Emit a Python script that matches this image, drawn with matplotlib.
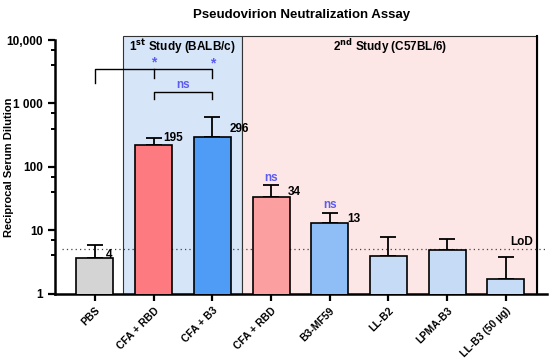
import numpy as np
import matplotlib.pyplot as plt
from matplotlib.patches import Rectangle
from matplotlib.ticker import FixedLocator, FixedFormatter

plt.rcParams['font.family'] = ['Liberation Sans', 'DejaVu Sans']
plt.rcParams['font.weight'] = 'bold'

# data
groups = ["PBS", "CFA + RBD", "CFA + B3", "CFA + RBD", "B3-MF59",
          "LL-B2", "LPMA-B3", "LL-B3 (50 \u00b5g)"]
means = [3.7, 219, 294, 33, 13.1, 3.9, 4.8, 1.7]
err_top = [5.85, 286, 614, 51.5, 18.5, 7.9, 7.2, 3.75]
labels = ["4", "195", "296", "34", "13", None, None, None]
colors = ["#d4d4d4", "#fd7b80", "#4f9cf7", "#fc9fa0", "#8fbdf6",
          "#c6dcf6", "#c6dcf6", "#c6dcf6"]
lod = 5

fig = plt.figure(figsize=(5.5, 3.58), dpi=100)
ax = fig.add_axes([0.1, 0.18, 0.8945, 0.708])

x = np.arange(len(groups))
ax.set_yscale("log")
ax.set_ylim(1, 10000)
ax.set_xlim(-0.68, 7.7)

# study backgrounds
ax.add_patch(Rectangle((0.48, 1), 2.025, 11800, facecolor="#d6e5f8",
                       edgecolor="#333333", lw=0.8, zorder=0, clip_on=False))
ax.add_patch(Rectangle((2.505, 1), 5.025, 11800, facecolor="#fde6e6",
                       edgecolor="#333333", lw=0.8, zorder=0, clip_on=False))
ax.plot([7.53, 7.53], [1, 11800], color="black", lw=1.5, zorder=1, clip_on=False)
ax.text(1.49, 8000, r"1$^{\mathbf{st}}$ Study (BALB/c)", ha="center", va="center", fontsize=8.5)
ax.text(5.02, 8000, r"2$^{\mathbf{nd}}$ Study (C57BL/6)", ha="center", va="center", fontsize=8.5)

# LoD line
ax.axhline(lod, xmin=0.015, color="#444444", ls=(0, (1, 2.5)), lw=0.9, zorder=1)
ax.text(7.27, 6.4, "LoD", ha="center", va="center", fontsize=8.5)

# bars and error bars
ax.bar(x, means, width=0.63, color=colors, edgecolor="black", lw=1.2,
       bottom=0, zorder=3)
ax.errorbar(x, means, yerr=[np.zeros(len(means)), np.array(err_top) - np.array(means)],
            fmt="none", ecolor="black", elinewidth=1.3, capsize=5.5, capthick=1.3, zorder=2)

# value labels
lab_y = [4.1, 286, 400, 40, 15]
lab_dx = [0.2, 0.18, 0.32, 0.31, 0.31]
for i, lab in enumerate(labels):
    if lab is None:
        continue
    ax.text(x[i] + lab_dx[i] - 0.02, lab_y[i], lab, ha="left", va="center", fontsize=8.5)

# significance brackets
sig = "#5c5cf0"
ax.plot([0, 0, 2, 2], [2080, 3460, 3460, 2500], color="black", lw=1, clip_on=False, zorder=4)
ax.plot([1, 1], [3460, 2500], color="black", lw=1, zorder=4)
ax.text(1, 4500, "*", color=sig, ha="center", va="center", fontsize=10)
ax.text(2, 4300, "*", color=sig, ha="center", va="center", fontsize=10)
ax.plot([1, 1, 2, 2], [1170, 1520, 1520, 1170], color="black", lw=1, zorder=4)
ax.text(1.5, 1950, "ns", color=sig, ha="center", va="center", fontsize=8.5)
ax.text(3, 66, "ns", color=sig, ha="center", va="center", fontsize=8.5)
ax.text(4, 25, "ns", color=sig, ha="center", va="center", fontsize=8.5)

# axes styling
for s in ["top", "right"]:
    ax.spines[s].set_visible(False)
ax.spines["left"].set_linewidth(1.8)
ax.spines["bottom"].set_linewidth(1.8)
ax.yaxis.set_major_locator(FixedLocator([1, 10, 100, 1000, 10000]))
ax.yaxis.set_major_formatter(FixedFormatter(["1", "10", "100", "1 000", "10,000"]))
minors = [m * 10.0 ** k for k in range(4) for m in (4, 7)]
ax.yaxis.set_minor_locator(FixedLocator(minors))
ax.yaxis.set_minor_formatter(FixedFormatter([""] * len(minors)))
ax.tick_params(axis="y", which="major", length=5, width=1.6, labelsize=8.5)
ax.tick_params(axis="y", which="minor", length=3, width=1.4)
ax.tick_params(axis="x", length=5, width=1.6, labelsize=7.5)
ax.set_xticks(x)
ax.set_xticklabels(groups, rotation=45, ha="right", rotation_mode="anchor")
ax.set_ylabel("Reciprocal Serum Dilution", fontsize=8, fontweight="bold")
ax.yaxis.set_label_coords(-0.083, 0.5)
ax.set_facecolor("none")

fig.text(0.548, 0.958, "Pseudovirion Neutralization Assay", ha="center", va="center",
         fontsize=9.5)

fig.savefig("out.png", dpi=100)
